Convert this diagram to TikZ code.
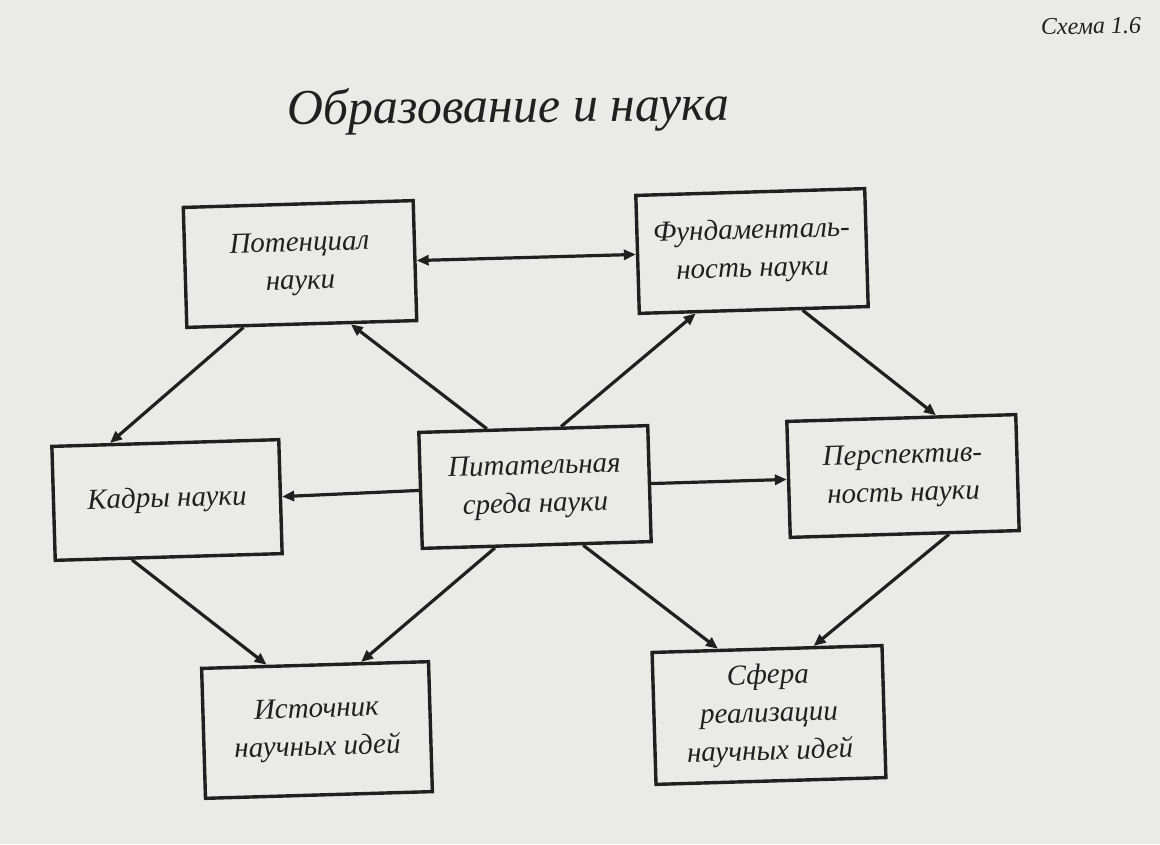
\documentclass[tikz,border=0pt]{standalone}
\usepackage{fontspec}
\setmainfont{Liberation Serif}
\usetikzlibrary{arrows.meta,calc}
\definecolor{paper}{RGB}{234,234,231}
\definecolor{ink}{RGB}{32,32,32}
\tikzset{
  box/.style={draw=ink, line width=3.4pt, fill=none, rectangle, rotate=1.7,
    align=center, inner sep=0pt, text=ink,
    font=\fontsize{29}{38}\selectfont\itshape},
  conn/.style={draw=ink, line width=3.2pt, -{Triangle[length=12pt,width=10pt]}},
  biconn/.style={draw=ink, line width=3.2pt, {Triangle[length=12pt,width=10pt]}-{Triangle[length=12pt,width=10pt]}},
  titletext/.style={text=ink, rotate=0.6, font=\fontsize{50}{56}\selectfont\itshape},
  labeltext/.style={text=ink, rotate=1.0, font=\fontsize{24}{28}\selectfont\itshape}
}
\begin{document}
\begin{tikzpicture}[x=1pt,y=-1pt]
\fill[paper] (0,0) rectangle (1160,844);
\useasboundingbox (0,0) rectangle (1160,844);

\node[labeltext] (lab) at (1091,26) {Схема 1.6};
\node[titletext] (title) at (508,110) {Образование и наука};

\node[box, minimum width=230pt, minimum height=120pt] (pot) at (300,264) {Потенциал\\науки};
\node[box, minimum width=229pt, minimum height=118pt] (fund) at (752,251) {Фундаменталь-\\ность науки};
\node[box, minimum width=227pt, minimum height=114pt] (kad) at (167,500) {Кадры науки};
\node[box, minimum width=229pt, minimum height=116pt] (pit) at (535,487) {Питательная\\среда науки};
\node[box, minimum width=229pt, minimum height=116pt] (per) at (903,476) {Перспектив-\\ность науки};
\node[box, minimum width=227pt, minimum height=130pt] (ist) at (317,730) {Источник\\научных идей};
\node[box, minimum width=230pt, minimum height=132pt] (sfe) at (769,715) {Сфера\\реализации\\научных идей};

\draw[biconn] (pot.east) -- (fund.west);
\draw[conn] ($(pot.south west)!0.25!(pot.south east)$) -- ($(kad.north west)!0.26!(kad.north east)$);
\draw[conn] ($(pit.north west)!0.30!(pit.north east)$) -- ($(pot.south west)!0.71!(pot.south east)$);
\draw[conn] ($(pit.north west)!0.62!(pit.north east)$) -- ($(fund.south west)!0.25!(fund.south east)$);
\draw[conn] ($(fund.south west)!0.71!(fund.south east)$) -- ($(per.north west)!0.65!(per.north east)$);
\draw[conn] (pit.west) -- (kad.east);
\draw[conn] (pit.east) -- (per.west);
\draw[conn] ($(kad.south west)!0.34!(kad.south east)$) -- ($(ist.north west)!0.29!(ist.north east)$);
\draw[conn] ($(pit.south west)!0.32!(pit.south east)$) -- ($(ist.north west)!0.70!(ist.north east)$);
\draw[conn] ($(pit.south west)!0.70!(pit.south east)$) -- ($(sfe.north west)!0.29!(sfe.north east)$);
\draw[conn] ($(per.south west)!0.69!(per.south east)$) -- ($(sfe.north west)!0.70!(sfe.north east)$);
\end{tikzpicture}
\end{document}
